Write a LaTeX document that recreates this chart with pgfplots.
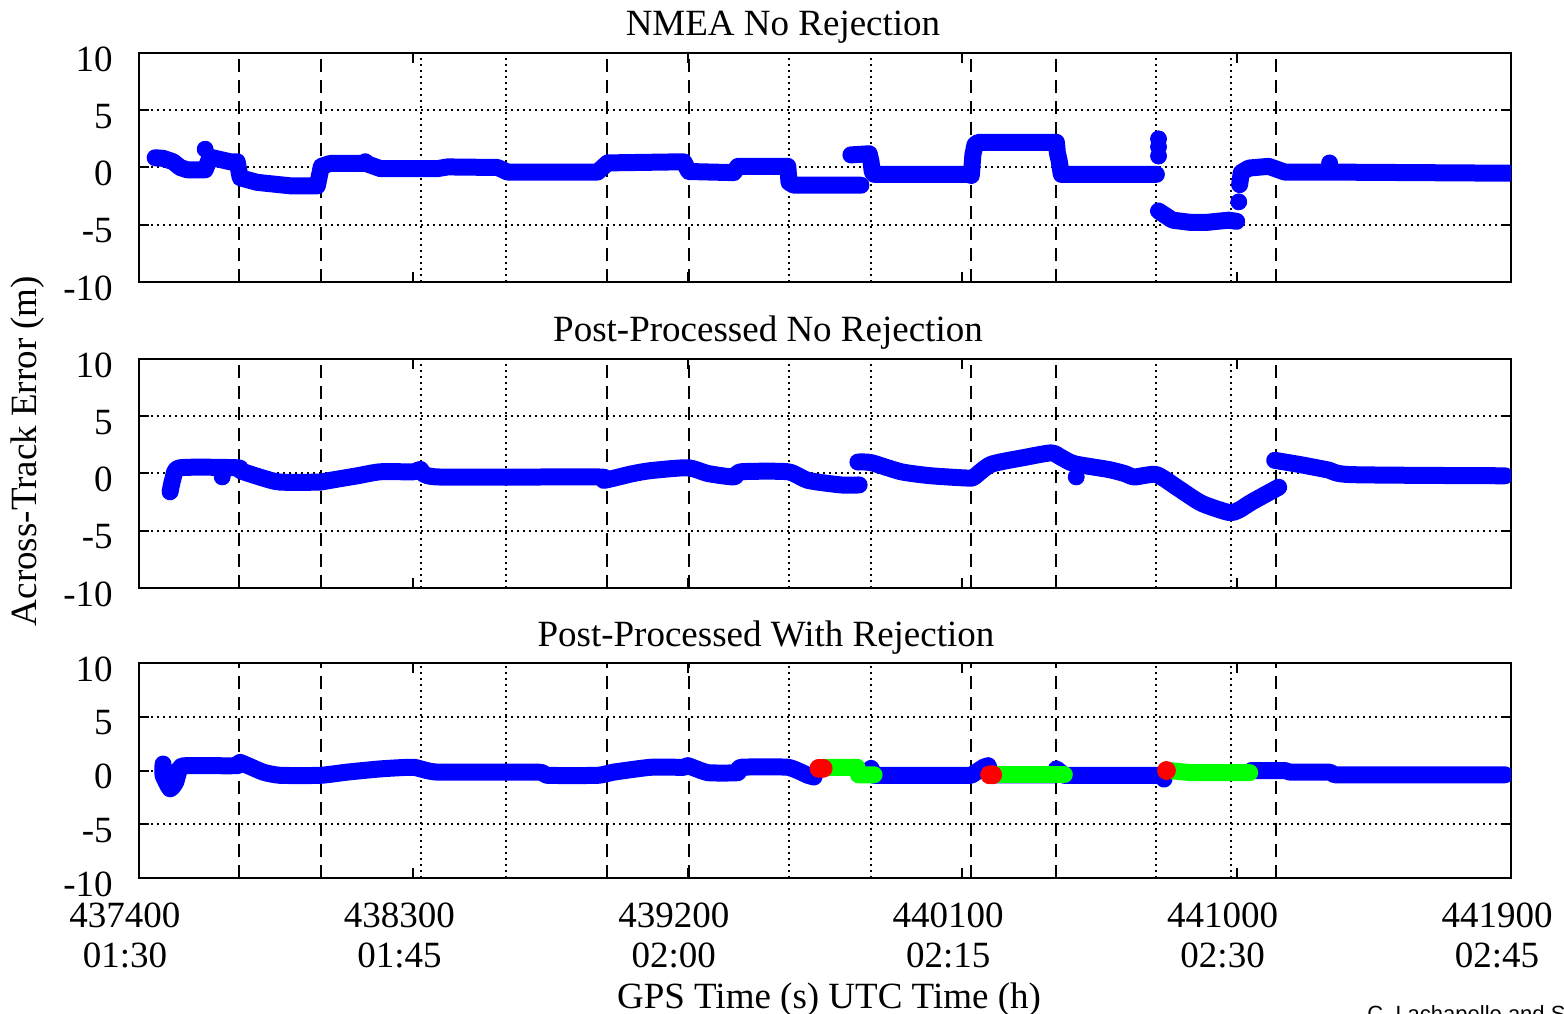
\documentclass[border=0pt]{standalone}
\usepackage{fontspec}
\setmainfont{Liberation Serif}
\newfontfamily\creditfont{Liberation Sans}
\usepackage{pgfplots}
\pgfplotsset{compat=1.18}

\definecolor{mblue}{RGB}{0,0,255}
\definecolor{mgreen}{RGB}{0,255,0}
\definecolor{mred}{RGB}{255,0,0}

\tikzset{
  vdash/.style={black, line width=1pt, dash pattern=on 6.5pt off 4pt},
  vdot/.style={black, line width=1pt, dash pattern=on 1pt off 2pt},
}

\pgfplotsset{
  panel/.style={
    scale only axis, width=686pt, height=114.5pt,
    xmin=437400, xmax=441900, ymin=-10, ymax=10,
    xtick={437400,438300,439200,440100,441000,441900},
    xticklabels={},
    scaled x ticks=false,
    xtick scale label code/.code={},
    ytick={-10,-5,0,5,10},
    yticklabels={-10,-5,0,5,10},
    tick align=inside, major tick length=5pt,
    every tick/.style={black, line width=1pt},
    ymajorgrids,
    grid style={black, line width=1pt, dash pattern=on 1pt off 2pt},
    axis line style={black, line width=1.4pt},
    yticklabel style={anchor=east, inner sep=0pt, xshift=-13pt, yshift=-3pt},
    title style={at={(0.5,1)}, anchor=base, yshift=2.5pt, inner sep=0pt},
    font=\fontsize{18.5}{20}\selectfont,
  },
  band/.style={mblue, line width=8.5pt, line cap=round, line join=round, mark=none},
  dot/.style={only marks, mark=*, mark size=4pt, mark options={draw=mblue, fill=mblue}},
}

\newcommand{\vlines}{%
  \pgfplotsinvokeforeach{437728,437998,438934,439203,440130,440409,441128}{%
    \draw[vdash] (axis cs:##1,-10) -- (axis cs:##1,10);}%
  \pgfplotsinvokeforeach{438326,438605,439532,439801,440737,440980}{%
    \draw[vdot] (axis cs:##1,-10) -- (axis cs:##1,10);}%
}

\begin{document}
\fontsize{18.5}{20}\selectfont
\begin{tikzpicture}
\path[use as bounding box] (0,0) rectangle (782pt,506.5pt);

% NMEA
\begin{axis}[panel, at={(69.5pt,365.5pt)}, anchor=south west,
    title={NMEA No Rejection}, title style={xshift=-21pt}]
  \vlines
  \addplot[band] coordinates {
    (437453,0.85) (437479,0.8) (437512,0.5) (437535,0.0) (437558,-0.2)
    (437617,-0.2) (437633,0.9) (437699,0.5) (437722,0.5) (437732,-0.9)
    (437788,-1.3) (437896,-1.6) (437985,-1.6) (437998,0.1) (438027,0.35)
    (438136,0.35) (438142,0.5) (438150,0.3) (438192,-0.1) (438379,-0.1)
    (438412,0.05) (438576,0.0) (438609,-0.4) (438904,-0.4) (438937,0.4)
    (439187,0.5) (439203,-0.35) (439351,-0.45) (439364,0.1) (439528,0.1)
    (439532,-1.3) (439548,-1.55) (439768,-1.55)
  };
  \addplot[band] coordinates {
    (439735,1.1) (439795,1.2) (439801,0.5) (439805,-0.4) (439811,-0.6)
    (440120,-0.6) (440130,-0.7) (440135,1.1) (440142,2.0) (440153,2.2)
    (440409,2.2) (440412,1.3) (440418,0.6) (440425,-0.6) (440737,-0.6)
  };
  \addplot[band] coordinates {
    (440744,-3.8) (440790,-4.6) (440850,-4.8) (440900,-4.8) (440974,-4.6)
    (441000,-4.7)
  };
  \addplot[band] coordinates {
    (441010,-1.5) (441015,-0.45) (441040,-0.05) (441105,0.1) (441158,-0.4)
    (441302,-0.4) (441895,-0.5)
  };
  \addplot[dot] coordinates {
    (437617,1.6) (440744,2.5) (440744,1.8) (440744,1.0) (441007,-3.0)
    (441305,0.4)
  };
\end{axis}

% post-processed, no rejection
\begin{axis}[panel, at={(69.5pt,212.5pt)}, anchor=south west,
    title={Post-Processed No Rejection}, title style={xshift=-28.5pt}]
  \vlines
  \addplot[band, smooth, tension=0.4] coordinates {
    (437502,-1.6) (437512,-0.4) (437535,0.5) (437722,0.5) (437732,0.25)
    (437807,-0.4) (437863,-0.75) (437995,-0.75) (438027,-0.6) (438116,-0.2)
    (438192,0.15) (438300,0.15) (438323,0.35) (438379,-0.3) (438904,-0.3)
    (438924,-0.6) (439013,-0.05) (439078,0.25) (439200,0.5) (439266,0.0)
    (439351,-0.3) (439374,0.15) (439528,0.15) (439594,-0.6) (439703,-1.0)
    (439762,-1.0)
  };
  \addplot[band, smooth, tension=0.4] coordinates {
    (439758,1.0) (439801,0.95) (439900,0.15) (439998,-0.2) (440120,-0.4)
    (440139,-0.3) (440195,0.8) (440304,1.4) (440392,1.8) (440425,1.4)
    (440468,0.85) (440580,0.35) (440632,0.0) (440665,-0.3) (440737,-0.1)
    (440809,-1.3) (440885,-2.6) (440974,-3.4) (441007,-3.2) (441049,-2.5)
    (441138,-1.2)
  };
  \addplot[band, smooth, tension=0.4] coordinates {
    (441125,1.15) (441214,0.75) (441302,0.3) (441378,-0.1) (441880,-0.2)
  };
  \addplot[dot] coordinates {(437673,-0.3) (440474,-0.3)};
\end{axis}

% post-processed, with rejection
\begin{axis}[panel, height=107.5pt, at={(69.5pt,67.5pt)}, anchor=south west,
    title={Post-Processed With Rejection}, title style={xshift=-29.5pt},
    xticklabels={{437400\\01:30},{438300\\01:45},{439200\\02:00},{440100\\02:15},{441000\\02:30},{441900\\02:45}},
    xticklabel style={align=center, anchor=north, inner sep=0pt, yshift=-12pt, xshift=-7pt}]
  \vlines
  \addplot[band, smooth, tension=0.3] coordinates {
    (437479,0.6) (437479,-0.45) (437502,-1.7) (437520,-1.1) (437535,0.3)
    (437558,0.45) (437722,0.45) (437732,0.75) (437807,-0.15) (437863,-0.45)
    (437995,-0.45) (438083,-0.15) (438192,0.15) (438300,0.3) (438379,-0.15)
    (438707,-0.15) (438740,-0.45) (438904,-0.45) (438957,-0.15) (439078,0.3)
    (439187,0.3) (439200,0.45) (439266,-0.2) (439364,-0.2) (439374,0.3)
    (439528,0.3) (439594,-0.45) (439614,-0.6)
  };
  \addplot[band] coordinates {
    (439801,0.2) (439811,-0.45) (440130,-0.45) (440170,0.3) (440185,0.45)
    (440195,-0.4) (440409,-0.4) (440409,0.15) (440435,-0.45) (440754,-0.45)
    (440762,-0.8)
  };
  \addplot[band] coordinates {
    (441049,0.0) (441158,0.0) (441175,-0.15) (441305,-0.15) (441322,-0.4)
    (441880,-0.4)
  };
  \addplot[band, mgreen] coordinates {
    (439647,0.3) (439755,0.3) (439760,-0.4) (439811,-0.4)
  };
  \addplot[band, mgreen] coordinates {(440205,-0.4) (440435,-0.4)};
  \addplot[band, mgreen] coordinates {(440777,0.0) (440850,-0.2) (441043,-0.2)};
  \addplot[only marks, mark=*, mark size=4.5pt, mark options={draw=mred, fill=mred}]
    coordinates {(439630,0.2) (439644,0.2) (440190,-0.4) (440200,-0.4) (440770,0.0)};
\end{axis}

\node[rotate=90] at (14pt,281pt) {Across-Track Error (m)};
\node[anchor=base] at (414.5pt,2.5pt) {GPS Time (s) UTC Time (h)};
\node[anchor=north west, inner sep=0pt, font=\creditfont\fontsize{11}{12}\selectfont]
  at (683.5pt,4pt) {C. Lachapelle and S. Ryan};
\end{tikzpicture}
\end{document}
